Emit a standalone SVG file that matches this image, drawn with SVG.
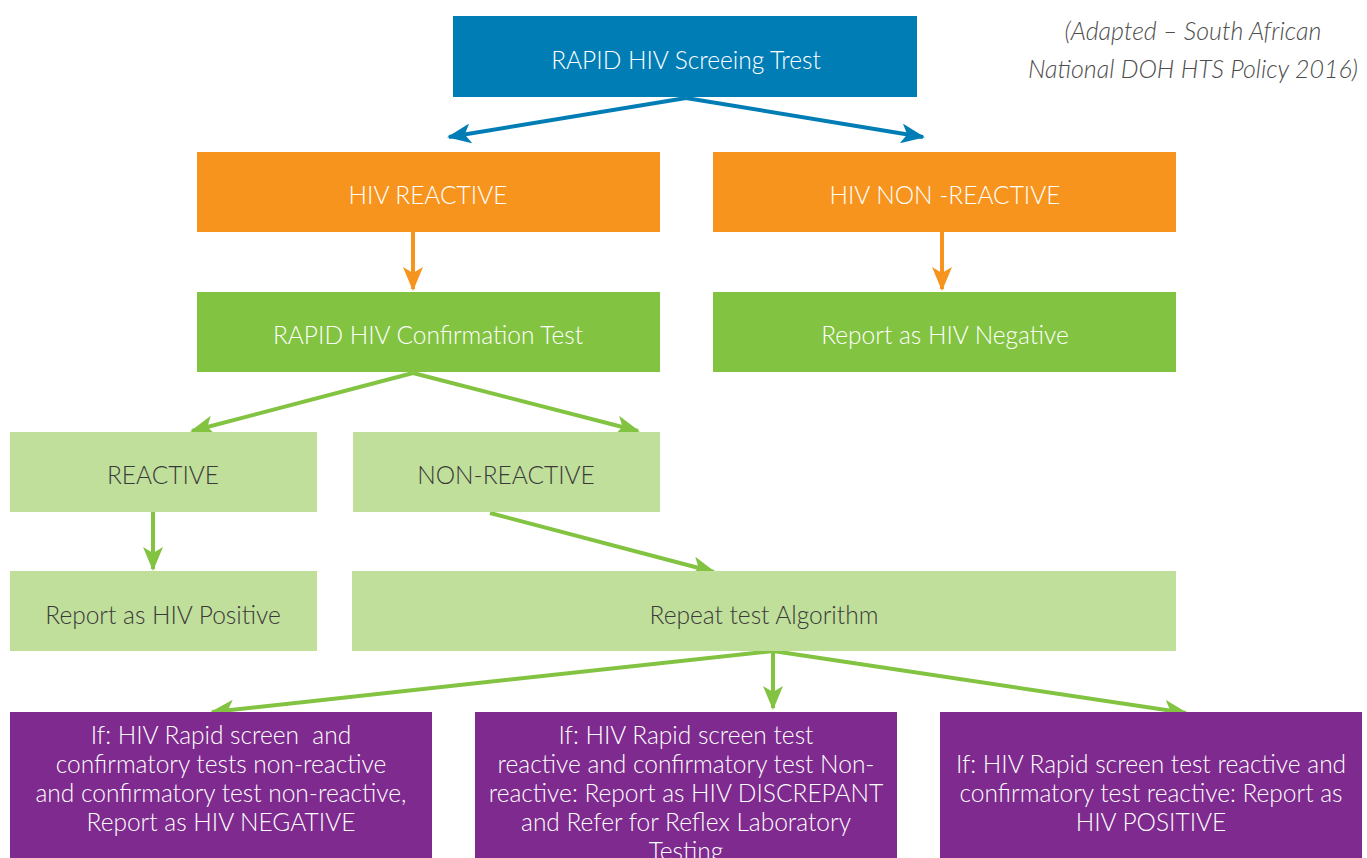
<svg xmlns="http://www.w3.org/2000/svg" width="1367" height="858" viewBox="0 0 1367 858">
<style>
text{font-family:Lato,"Open Sans","Liberation Sans",sans-serif;font-size:24.5px;font-weight:300;text-anchor:middle;}
.w{fill:#ffffff;}
.d{fill:#3a3a3a;}
.blue{fill:#017DB6;}
.orange{fill:#F7941D;}
.green{fill:#82C341;}
.light{fill:#C0DF9B;}
.purple{fill:#7E2A8E;}
.cap{fill:#4d4d4d;font-style:italic;font-size:25px;}
.cb{stroke:#017DB6;stroke-width:4;fill:none;}
.co{stroke:#F7941D;stroke-width:4;fill:none;}
.cg{stroke:#82C341;stroke-width:4;fill:none;}
</style>
<defs>
<marker id="ab" viewBox="0 0 24 20" refX="22" refY="10" markerWidth="24" markerHeight="20" markerUnits="userSpaceOnUse" orient="auto"><path d="M0,0 L24,10 L0,20 L6,10 z" fill="#017DB6"/></marker>
<marker id="ao" viewBox="0 0 24 20" refX="22" refY="10" markerWidth="24" markerHeight="20" markerUnits="userSpaceOnUse" orient="auto"><path d="M0,0 L24,10 L0,20 L6,10 z" fill="#F7941D"/></marker>
<marker id="ag" viewBox="0 0 24 20" refX="22" refY="10" markerWidth="24" markerHeight="20" markerUnits="userSpaceOnUse" orient="auto"><path d="M0,0 L24,10 L0,20 L6,10 z" fill="#82C341"/></marker>
</defs>
<rect width="1367" height="858" fill="#ffffff"/>
<g id="caption">
<text class="cap" x="1193" y="40">(Adapted – South African</text>
<text class="cap" x="1193" y="78">National DOH HTS Policy 2016)</text>
</g>
<g id="connectors">
<line class="cb" x1="686" y1="98" x2="449" y2="137" marker-end="url(#ab)"/>
<line class="cb" x1="686" y1="98" x2="923" y2="137" marker-end="url(#ab)"/>
<line class="co" x1="413" y1="232" x2="413" y2="289" marker-end="url(#ao)"/>
<line class="co" x1="942" y1="232" x2="942" y2="289" marker-end="url(#ao)"/>
<line class="cg" x1="413" y1="373" x2="192" y2="431" marker-end="url(#ag)"/>
<line class="cg" x1="413" y1="373" x2="638" y2="431" marker-end="url(#ag)"/>
<line class="cg" x1="153" y1="512" x2="153" y2="569" marker-end="url(#ag)"/>
<line class="cg" x1="490" y1="513" x2="714" y2="572" marker-end="url(#ag)"/>
<line class="cg" x1="773" y1="651" x2="212" y2="712" marker-end="url(#ag)"/>
<line class="cg" x1="773" y1="651" x2="773" y2="708" marker-end="url(#ag)"/>
<line class="cg" x1="773" y1="651" x2="1186" y2="713" marker-end="url(#ag)"/>
</g>
<g id="screen"><rect class="blue" x="453" y="16" width="464" height="81"/><text class="w" x="686" y="69">RAPID HIV Screeing Trest</text></g>
<g id="reactive"><rect class="orange" x="197" y="152" width="463" height="80"/><text class="w" x="428" y="204">HIV REACTIVE</text></g>
<g id="nonreactive"><rect class="orange" x="713" y="152" width="463" height="80"/><text class="w" x="945" y="204">HIV NON -REACTIVE</text></g>
<g id="confirm"><rect class="green" x="197" y="292" width="463" height="80"/><text class="w" x="428" y="344">RAPID HIV Confirmation Test</text></g>
<g id="negative"><rect class="green" x="713" y="292" width="463" height="80"/><text class="w" x="945" y="344">Report as HIV Negative</text></g>
<g id="c-reactive"><rect class="light" x="10" y="432" width="307" height="80"/><text class="d" x="163" y="484">REACTIVE</text></g>
<g id="c-nonreactive"><rect class="light" x="353" y="432" width="307" height="80"/><text class="d" x="506" y="484">NON-REACTIVE</text></g>
<g id="positive"><rect class="light" x="10" y="571" width="307" height="80"/><text class="d" x="163" y="624">Report as HIV Positive</text></g>
<g id="repeat"><rect class="light" x="352" y="571" width="824" height="80"/><text class="d" x="764" y="624">Repeat test Algorithm</text></g>
<g id="out-negative"><rect class="purple" x="10" y="712" width="422" height="146"/>
<text class="w" x="221" y="744" xml:space="preserve">If: HIV Rapid screen  and</text>
<text class="w" x="221" y="773">confirmatory tests non-reactive</text>
<text class="w" x="221" y="802">and confirmatory test non-reactive,</text>
<text class="w" x="221" y="831">Report as HIV NEGATIVE</text></g>
<g id="out-discrepant"><rect class="purple" x="475" y="712" width="422" height="146"/>
<text class="w" x="686" y="744">If: HIV Rapid screen test</text>
<text class="w" x="686" y="773">reactive and confirmatory test Non-</text>
<text class="w" x="686" y="802">reactive: Report as HIV DISCREPANT</text>
<text class="w" x="686" y="831">and Refer for Reflex Laboratory</text>
<text class="w" x="686" y="860">Testing</text></g>
<g id="out-positive"><rect class="purple" x="940" y="712" width="422" height="146"/>
<text class="w" x="1151" y="773">If: HIV Rapid screen test reactive and</text>
<text class="w" x="1151" y="802">confirmatory test reactive: Report as</text>
<text class="w" x="1151" y="831">HIV POSITIVE</text></g>
</svg>
